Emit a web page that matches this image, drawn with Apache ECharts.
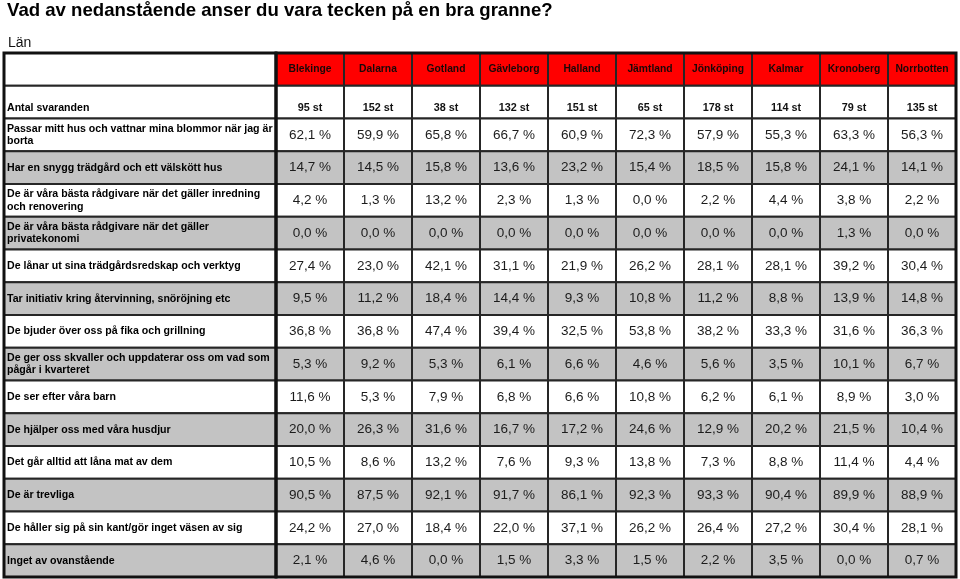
<!DOCTYPE html>
<html>
<head>
<meta charset="utf-8">
<script src="https://cdn.jsdelivr.net/npm/echarts@6/dist/echarts.min.js"></script>
<style>html,body{margin:0;padding:0;background:#fff}#c{width:960px;height:579px}</style>
</head>
<body>
<div id="c"></div>
<script>
const counties = ['Blekinge','Dalarna','Gotland','Gävleborg','Halland','Jämtland','Jönköping','Kalmar','Kronoberg','Norrbotten'];
const respondents = [95,152,38,132,151,65,178,114,79,135];
const statements = [
  'Passar mitt hus och vattnar mina blommor när jag är\nborta',
  'Har en snygg trädgård och ett välskött hus',
  'De är våra bästa rådgivare när det gäller inredning\noch renovering',
  'De är våra bästa rådgivare när det gäller\nprivatekonomi',
  'De lånar ut sina trädgårdsredskap och verktyg',
  'Tar initiativ kring återvinning, snöröjning etc',
  'De bjuder över oss på fika och grillning',
  'De ger oss skvaller och uppdaterar oss om vad som\npågår i kvarteret',
  'De ser efter våra barn',
  'De hjälper oss med våra husdjur',
  'Det går alltid att låna mat av dem',
  'De är trevliga',
  'De håller sig på sin kant/gör inget väsen av sig',
  'Inget av ovanstående'
];
const passar        = [62.1,59.9,65.8,66.7,60.9,72.3,57.9,55.3,63.3,56.3];
const snygg         = [14.7,14.5,15.8,13.6,23.2,15.4,18.5,15.8,24.1,14.1];
const inredning     = [4.2,1.3,13.2,2.3,1.3,0.0,2.2,4.4,3.8,2.2];
const privatekonomi = [0.0,0.0,0.0,0.0,0.0,0.0,0.0,0.0,1.3,0.0];
const lanar         = [27.4,23.0,42.1,31.1,21.9,26.2,28.1,28.1,39.2,30.4];
const initiativ     = [9.5,11.2,18.4,14.4,9.3,10.8,11.2,8.8,13.9,14.8];
const bjuder        = [36.8,36.8,47.4,39.4,32.5,53.8,38.2,33.3,31.6,36.3];
const skvaller      = [5.3,9.2,5.3,6.1,6.6,4.6,5.6,3.5,10.1,6.7];
const barn          = [11.6,5.3,7.9,6.8,6.6,10.8,6.2,6.1,8.9,3.0];
const husdjur       = [20.0,26.3,31.6,16.7,17.2,24.6,12.9,20.2,21.5,10.4];
const mat           = [10.5,8.6,13.2,7.6,9.3,13.8,7.3,8.8,11.4,4.4];
const trevliga      = [90.5,87.5,92.1,91.7,86.1,92.3,93.3,90.4,89.9,88.9];
const kant          = [24.2,27.0,18.4,22.0,37.1,26.2,26.4,27.2,30.4,28.1];
const inget         = [2.1,4.6,0.0,1.5,3.3,1.5,2.2,3.5,0.0,0.7];

const valueRows = [passar,snygg,inredning,privatekonomi,lanar,initiativ,bjuder,skvaller,barn,husdjur,mat,trevliga,kant,inget];
const rowNames = ['', 'Antal svaranden'].concat(statements);

const FONT = '"Liberation Sans", Arial, Helvetica, sans-serif';
const GRAY = '#c3c3c3';
const fmt = v => v.toFixed(1).replace('.', ',') + ' %';

function rowFill(r){ return (r >= 3 && r % 2 === 1) ? GRAY : '#ffffff'; }

// value cells
const valueCells = [];
for (let r = 0; r < rowNames.length; r++) {
  for (let c = 0; c < counties.length; c++) {
    let cell;
    if (r === 0) cell = {x:c, y:r, text:counties[c], fill:'#ff0000', bold:true, size:10.3, color:'#1a0808', v:'middle'};
    else if (r === 1) cell = {x:c, y:r, text:respondents[c] + ' st', fill:'#ffffff', bold:true, size:10.8, color:'#111', v:'bottom'};
    else cell = {x:c, y:r, text:fmt(valueRows[r-2][c]), fill:rowFill(r), bold:false, size:13.5, color:'#1c1c1c', v:'middle'};
    valueCells.push(cell);
  }
}
// label cells
const labelCells = rowNames.map((t, r) => ({x:0, y:r, text:t, fill:rowFill(r), bold:true, size:10.6, color:'#000', v: r === 1 ? 'bottom' : 'middle', left:true}));

function makeRender(cells){
  return function(params, api){
    const cell = cells[params.dataIndex];
    const c = api.coord([api.value(0), api.value(1)]);
    const s = api.size([1, 1]);
    const x = c[0] - s[0] / 2, y = c[1] - s[1] / 2;
    const children = [{
      type:'rect', shape:{x:x, y:y, width:s[0], height:s[1]},
      style:{fill:cell.fill, stroke:'#262626', lineWidth:2}
    }];
    let ty = c[1], va = 'middle';
    if (cell.v === 'bottom') { ty = y + s[1] - 4; va = 'bottom'; }
    children.push({
      type:'text', z2:5,
      style:{
        text:cell.text, x: cell.left ? x + 3 : c[0], y: ty,
        align: cell.left ? 'left' : 'center', verticalAlign: va,
        fontSize: cell.size, fontWeight: cell.bold ? 'bold' : 'normal',
        fontFamily: FONT, fill: cell.color, lineHeight: 12.5
      }
    });
    if (params.dataIndex === cells.length - 1) {
      const cs = params.coordSys;
      children.push({type:'rect', z2:10, shape:{x:cs.x, y:cs.y, width:cs.width, height:cs.height},
        style:{fill:'none', stroke:'#111', lineWidth:3}});
    }
    return {type:'group', children:children};
  };
}

const hiddenAxis = {axisLine:{show:false}, axisTick:{show:false}, axisLabel:{show:false}, splitLine:{show:false}};

const option = {
  animation:false,
  backgroundColor:'#fff',
  title:[
    {text:'Vad av nedanstående anser du vara tecken på en bra granne?', left:7, top:1, padding:0,
     textStyle:{fontSize:18.6, fontWeight:'bold', color:'#000', fontFamily:FONT}},
    {text:'Län', left:8, top:36, padding:0,
     textStyle:{fontSize:14, fontWeight:'normal', color:'#111', fontFamily:FONT}}
  ],
  grid:[
    {left:4, top:53, width:272, height:524},
    {left:276, top:53, width:680, height:524}
  ],
  xAxis:[
    Object.assign({type:'category', gridIndex:0, data:['label']}, hiddenAxis),
    Object.assign({type:'category', gridIndex:1, data:counties}, hiddenAxis)
  ],
  yAxis:[
    Object.assign({type:'category', gridIndex:0, data:rowNames, inverse:true}, hiddenAxis),
    Object.assign({type:'category', gridIndex:1, data:rowNames, inverse:true}, hiddenAxis)
  ],
  series:[
    {type:'custom', xAxisIndex:0, yAxisIndex:0, renderItem:makeRender(labelCells),
     data:labelCells.map(c => [c.x, c.y]), silent:true},
    {type:'custom', xAxisIndex:1, yAxisIndex:1, renderItem:makeRender(valueCells),
     data:valueCells.map(c => [c.x, c.y]), silent:true}
  ]
};
const chart = echarts.init(document.getElementById('c'), null, {renderer:'canvas'});
chart.setOption(option);
</script>
</body>
</html>
